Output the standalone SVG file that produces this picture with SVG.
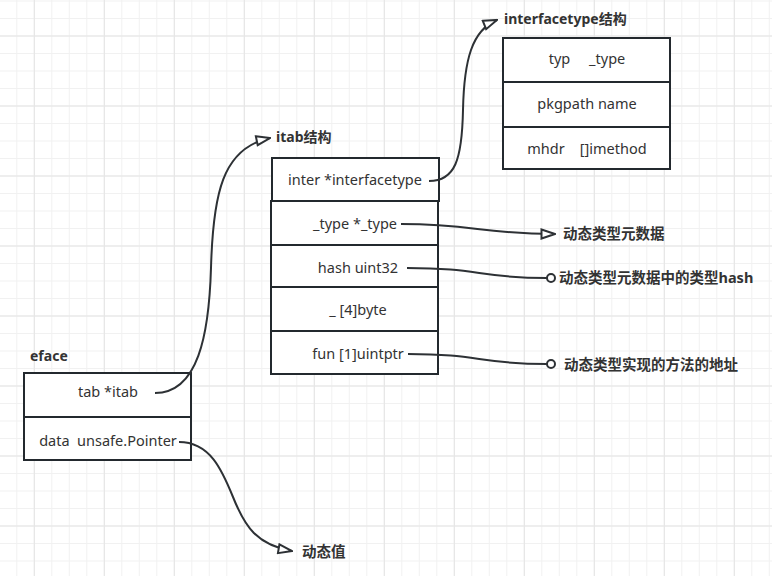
<svg xmlns="http://www.w3.org/2000/svg" width="772" height="576" viewBox="0 0 772 576">
<style>
.cell{fill:#ffffff;stroke:#23292e;stroke-width:2}
.t{font-family:"Noto Sans","Noto Sans CJK SC",sans-serif;font-size:14.5px;fill:#333333;text-anchor:middle;white-space:pre}
.lbl{font-family:"Noto Sans","Noto Sans CJK SC",sans-serif;font-size:14px;font-weight:bold;fill:#333333;white-space:pre}
.cjk{font-size:14.5px}
.edge{fill:none;stroke:#2d3135;stroke-width:2}
.dot{fill:#ffffff;stroke:#2d3135;stroke-width:2}
</style>
<defs>
<pattern id="minor" x="16.3" y="0.5" width="17.5" height="17.5" patternUnits="userSpaceOnUse">
<rect x="0" y="0" width="1" height="17.5" fill="#f1f1f1"/>
<rect x="0" y="0" width="17.5" height="1" fill="#f1f1f1"/>
</pattern>
<pattern id="major" x="33.8" y="35.5" width="70" height="70" patternUnits="userSpaceOnUse">
<rect x="0" y="0" width="1" height="70" fill="#e4e4e4"/>
<rect x="0" y="0" width="70" height="1" fill="#e4e4e4"/>
</pattern>
<marker id="arrow" viewBox="0 0 16 12" refX="15" refY="6" markerWidth="16" markerHeight="12" markerUnits="userSpaceOnUse" orient="auto">
<path d="M1.5,1.5 L15,6 L1.5,10.5 Z" fill="#ffffff" stroke="#2d3135" stroke-width="2" stroke-linejoin="miter"/>
</marker>
</defs>
<rect width="772" height="576" fill="#ffffff"/>
<rect width="772" height="576" fill="url(#minor)"/>
<rect width="772" height="576" fill="url(#major)"/>

<g id="eface">
<text class="lbl" x="30" y="361">eface</text>
<rect class="cell" x="24" y="373" width="167" height="44"/>
<rect class="cell" x="24" y="417" width="167" height="43"/>
<text class="t" x="108" y="397">tab *itab</text>
<text class="t" x="108" y="446">data  unsafe.Pointer</text>
</g>

<g id="itab">
<text class="lbl" x="276" y="142">itab结构</text>
<rect class="cell" x="272" y="158" width="167" height="43"/>
<rect class="cell" x="271" y="201" width="167" height="44"/>
<rect class="cell" x="271" y="245" width="167" height="42"/>
<rect class="cell" x="271" y="287" width="167" height="44"/>
<rect class="cell" x="271" y="331" width="167" height="43"/>
<text class="t" x="355" y="185">inter *interfacetype</text>
<text class="t" x="355" y="229">_type *_type</text>
<text class="t" x="358" y="273">hash uint32</text>
<text class="t" x="358" y="315">_ [4]byte</text>
<text class="t" x="358" y="359">fun [1]uintptr</text>
</g>

<g id="interfacetype">
<text class="lbl" x="504" y="24">interfacetype结构</text>
<rect class="cell" x="503" y="38" width="167" height="44"/>
<rect class="cell" x="503" y="82" width="167" height="45"/>
<rect class="cell" x="503" y="127" width="167" height="42"/>
<text class="t" x="587" y="64">typ     _type</text>
<text class="t" x="587" y="109">pkgpath name</text>
<text class="t" x="587" y="154">mhdr    []imethod</text>
</g>

<g id="labels">
<text class="lbl cjk" x="563" y="239">动态类型元数据</text>
<text class="lbl cjk" x="559" y="283">动态类型元数据中的类型hash</text>
<text class="lbl cjk" x="564" y="370">动态类型实现的方法的地址</text>
<text class="lbl cjk" x="302" y="557">动态值</text>
</g>

<g id="connectors">
<path class="edge" d="M155,393 C198,393 209,335 211,268 C213,195 222,148 270,138" marker-end="url(#arrow)"/>
<path class="edge" d="M429,181 C455,181 462,160 463,110 C464,60 472,30 497,20" marker-end="url(#arrow)"/>
<path class="edge" d="M179,442 C210,442 222,470 233,497 C245,527 257,545 292,551" marker-end="url(#arrow)"/>
<path class="edge" d="M401,224 C475,224 480,234 555,234" marker-end="url(#arrow)"/>
<path class="edge" d="M407,268 C480,268 478,278 547,278"/>
<circle class="dot" cx="551" cy="278" r="4"/>
<path class="edge" d="M408,354 C480,354 478,364 547,364"/>
<circle class="dot" cx="551" cy="364" r="4"/>
</g>
</svg>
